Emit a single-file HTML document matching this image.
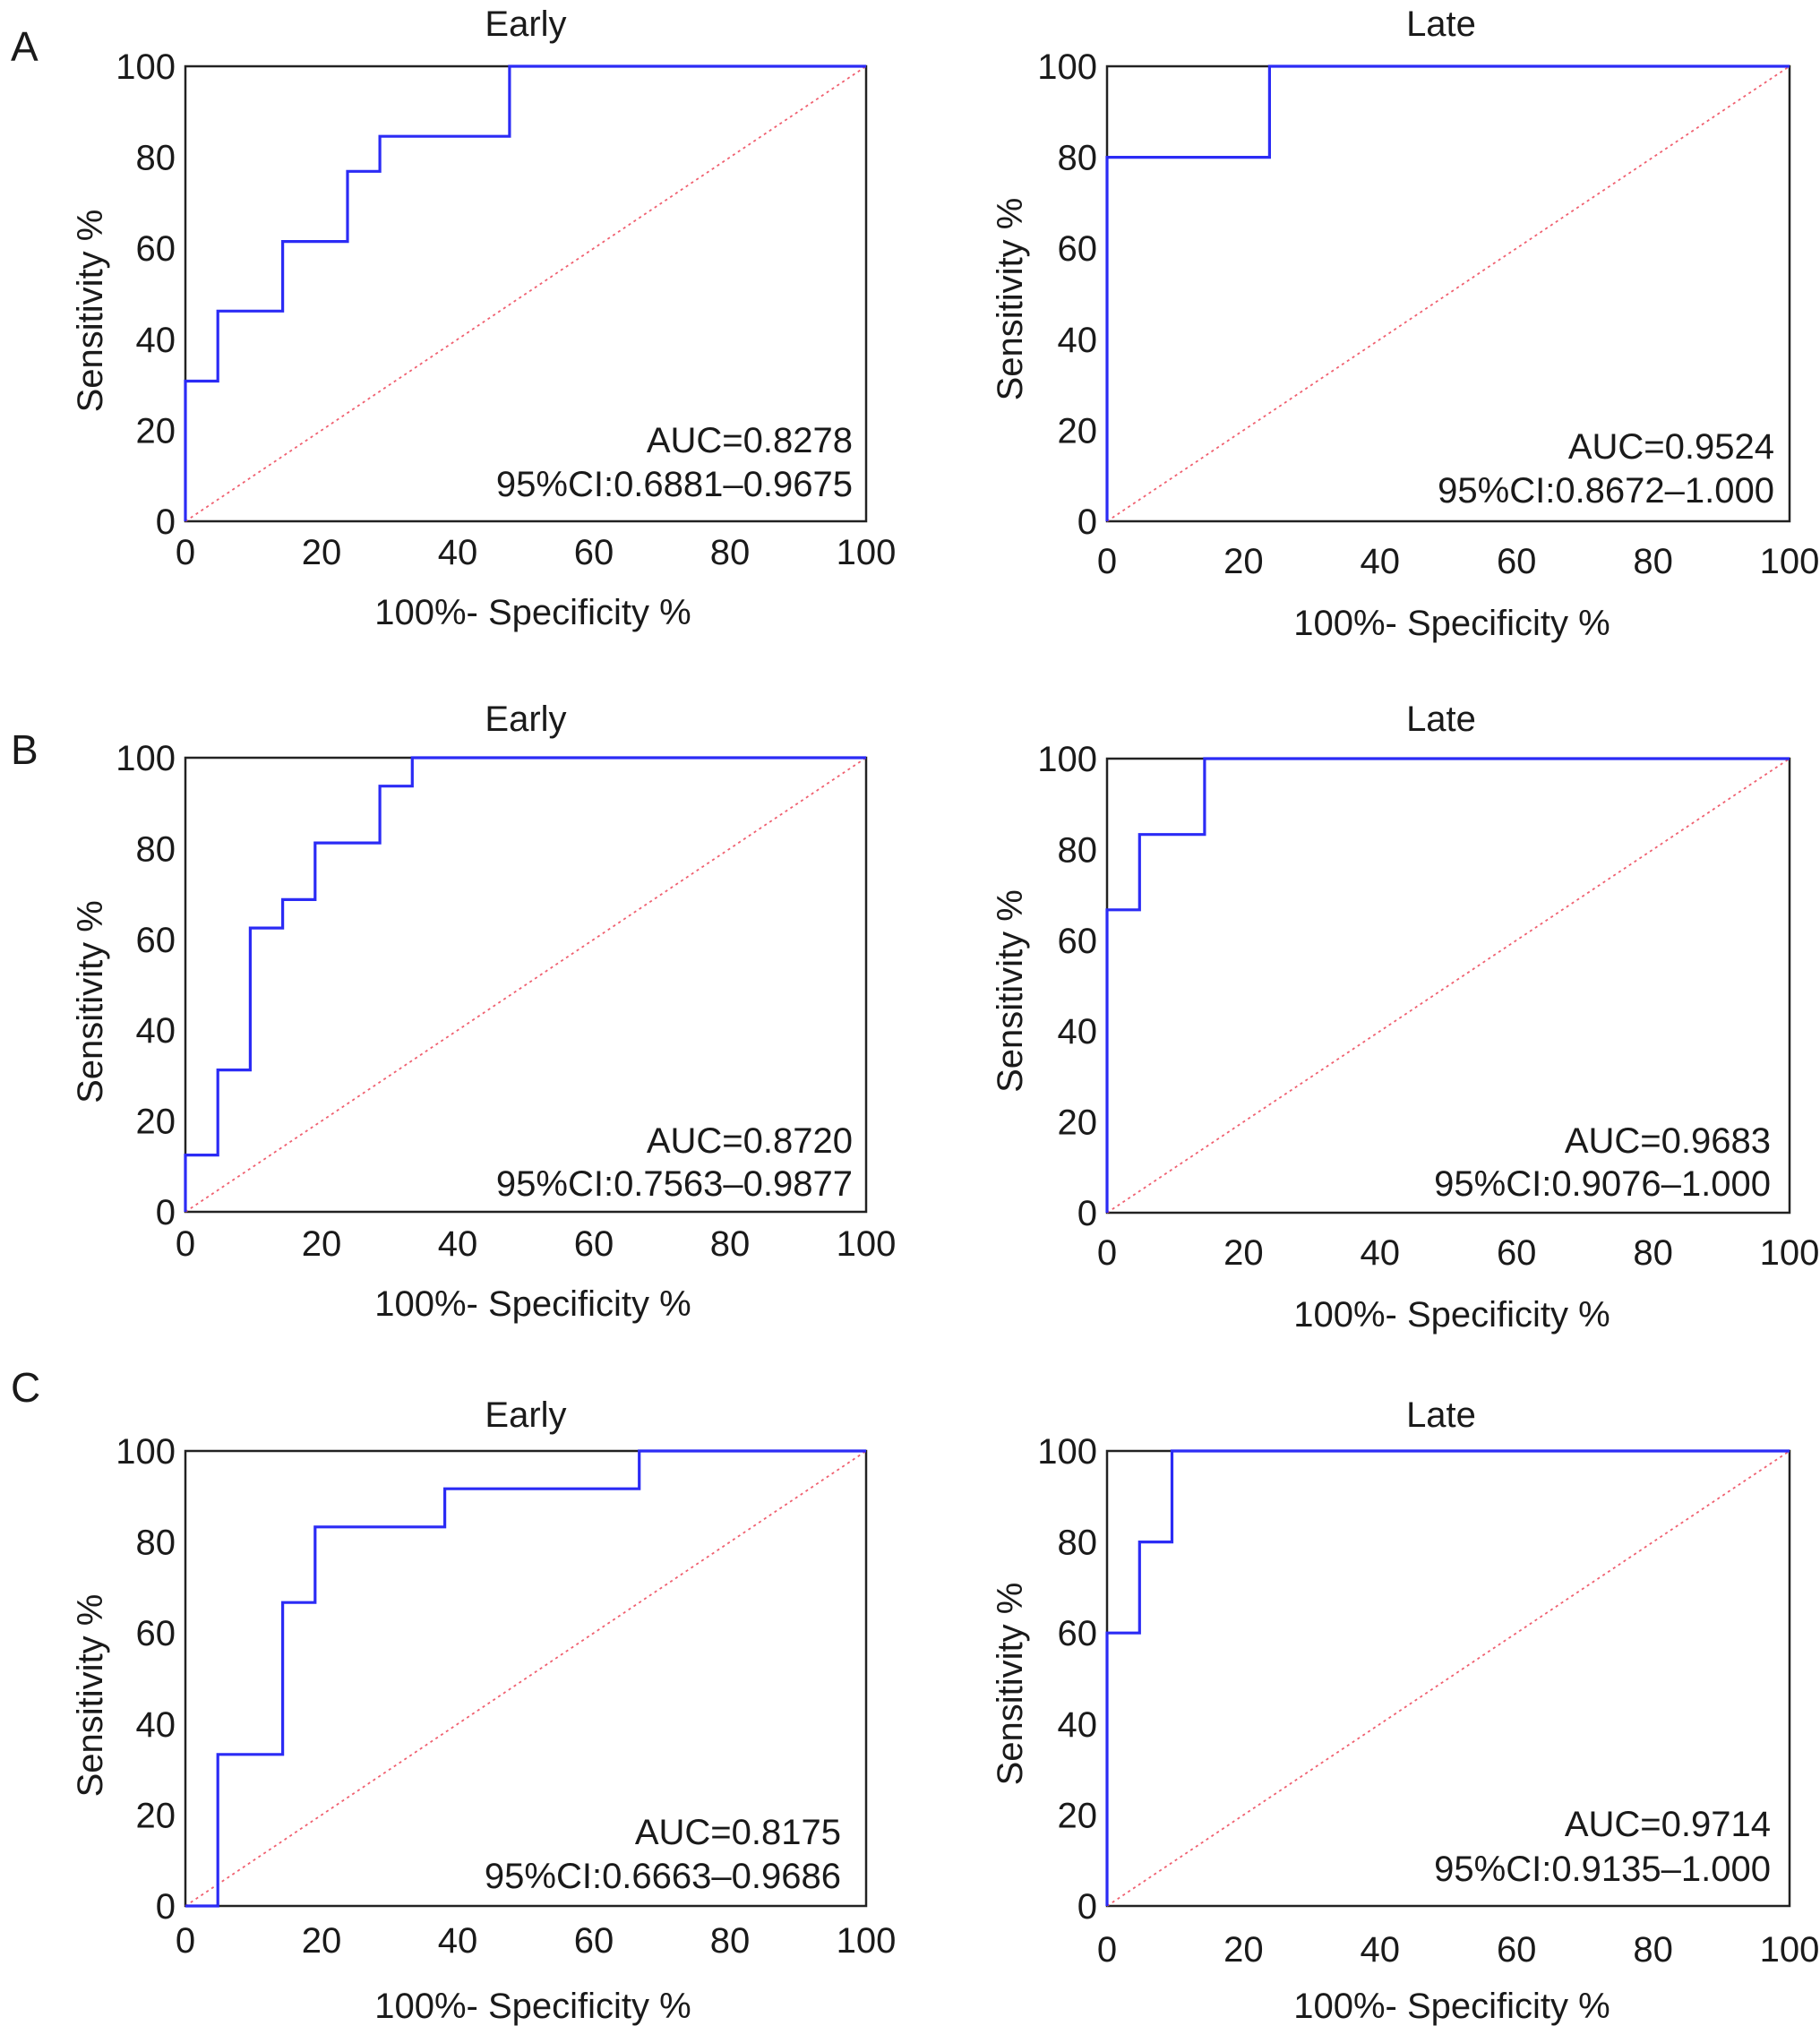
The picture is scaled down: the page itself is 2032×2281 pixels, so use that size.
<!DOCTYPE html>
<html><head><meta charset="utf-8"><style>
html,body{margin:0;padding:0;background:#fff}
svg{display:block}
text{font-family:"Liberation Sans",Arial,sans-serif;fill:#1a1a1a}
</style></head><body>
<svg id="fig" width="2032" height="2281" viewBox="0 0 2032 2281" xmlns="http://www.w3.org/2000/svg">
<text x="12" y="68" font-size="46">A</text>
<text x="12" y="853" font-size="46">B</text>
<text x="12" y="1565" font-size="46">C</text>
</svg>
<script>
// ROC vertices (FPR %, TPR %) per panel
const aEarlyFpr = [0,0,4.76,4.76,14.29,14.29,23.81,23.81,28.57,28.57,47.62,47.62,100];
const aEarlyTpr = [0,30.8,30.8,46.2,46.2,61.5,61.5,76.9,76.9,84.6,84.6,100,100];
const aLateFpr = [0,0,23.81,23.81,100];
const aLateTpr = [0,80,80,100,100];
const bEarlyFpr = [0,0,4.76,4.76,9.52,9.52,14.29,14.29,19.05,19.05,28.57,28.57,33.33,33.33,100];
const bEarlyTpr = [0,12.5,12.5,31.25,31.25,62.5,62.5,68.75,68.75,81.25,81.25,93.75,93.75,100,100];
const bLateFpr = [0,0,4.76,4.76,14.29,14.29,100];
const bLateTpr = [0,66.7,66.7,83.3,83.3,100,100];
const cEarlyFpr = [0,4.76,4.76,14.29,14.29,19.05,19.05,38.1,38.1,66.67,66.67,100];
const cEarlyTpr = [0,0,33.3,33.3,66.7,66.7,83.3,83.3,91.7,91.7,100,100];
const cLateFpr = [0,0,4.76,4.76,9.52,9.52,100];
const cLateTpr = [0,60,60,80,80,100,100];
const tickLabels = ["0","20","40","60","80","100"];
const tickValues = [0,20,40,60,80,100];
const aucTexts = ["AUC=0.8278","AUC=0.9524","AUC=0.8720","AUC=0.9683","AUC=0.8175","AUC=0.9714"];
const ciTexts = ["95%CI:0.6881\u20130.9675","95%CI:0.8672\u20131.000","95%CI:0.7563\u20130.9877","95%CI:0.9076\u20131.000","95%CI:0.6663\u20130.9686","95%CI:0.9135\u20131.000"];

const NS="http://www.w3.org/2000/svg";
const svg=document.getElementById('fig');
function mk(tag,attrs,parent){const e=document.createElementNS(NS,tag);for(const k in attrs)e.setAttribute(k,attrs[k]);(parent||svg).appendChild(e);return e;}

const FS=40;
const panels=[
 {id:'a-early',title:'Early',L:207,R:967,T:74,B:582,fx:aEarlyFpr,ty:aEarlyTpr,tickY:630,xt:697,ay:491,cy:540,ar:952,titleY:40},
 {id:'a-late',title:'Late',L:1236,R:1998,T:74,B:582,fx:aLateFpr,ty:aLateTpr,tickY:640,xt:709,ay:498,cy:547,ar:1981,titleY:40},
 {id:'b-early',title:'Early',L:207,R:967,T:846,B:1353,fx:bEarlyFpr,ty:bEarlyTpr,tickY:1402,xt:1469,ay:1273,cy:1321,ar:952,titleY:816},
 {id:'b-late',title:'Late',L:1236,R:1998,T:847,B:1354,fx:bLateFpr,ty:bLateTpr,tickY:1412,xt:1481,ay:1273,cy:1321,ar:1977,titleY:816},
 {id:'c-early',title:'Early',L:207,R:967,T:1620,B:2128,fx:cEarlyFpr,ty:cEarlyTpr,tickY:2180,xt:2253,ay:2045,cy:2094,ar:939,titleY:1593},
 {id:'c-late',title:'Late',L:1236,R:1998,T:1620,B:2128,fx:cLateFpr,ty:cLateTpr,tickY:2190,xt:2253,ay:2036,cy:2086,ar:1977,titleY:1593}
];
panels.forEach((p,i)=>{
 const g=mk('g',{});
 
 
 const sx=v=>p.L+(p.R-p.L)*v/100, sy=v=>p.B-(p.B-p.T)*v/100;
 const cx=(p.L+p.R)/2;
 const t=mk('text',{x:cx-(i%2?8:0),y:p.titleY,'font-size':FS,'text-anchor':'middle'},g);t.textContent=p.title;
 
 
 const box=mk('rect',{x:p.L,y:p.T,width:p.R-p.L,height:p.B-p.T,fill:'none',stroke:'#222','stroke-width':2.5},g);
 
 
 const diag=mk('line',{x1:sx(0),y1:sy(0),x2:sx(100),y2:sy(100),stroke:'#f06070','stroke-width':1.8,'stroke-dasharray':'3,4'},g);
 
 
 let d='';p.fx.forEach((v,k)=>{d+=(k?'L':'M')+sx(v).toFixed(1)+','+sy(p.ty[k]).toFixed(1);});
 const roc=mk('path',{d:d,fill:'none',stroke:'#2b2bf5','stroke-width':3.2,'stroke-linejoin':'miter'},g);
 
 
 tickValues.forEach((v,k)=>{
  const xl=mk('text',{x:sx(v),y:p.tickY,'font-size':FS,'text-anchor':'middle'},g);xl.textContent=tickLabels[k];
  
  
  const yl=mk('text',{x:p.L-11,y:sy(v)+14,'font-size':FS,'text-anchor':'end'},g);yl.textContent=tickLabels[k];
  
  
 });
 const xt=mk('text',{x:cx+(i%2?4:8),y:p.xt,'font-size':FS,'text-anchor':'middle'},g);xt.textContent='100%- Specificity %';
 
 
 const ym=(p.T+p.B)/2+(i%2?6:19), yx=p.L-93-(i%2?2:0);
 const yt=mk('text',{x:yx,y:ym,'font-size':FS,'text-anchor':'middle',transform:`rotate(-90 ${yx} ${ym})`},g);yt.textContent='Sensitivity %';
 
 
 const a=mk('text',{x:p.ar,y:p.ay+14,'font-size':FS,'text-anchor':'end'},g);a.textContent=aucTexts[i];
 
 
 const c=mk('text',{x:p.ar,y:p.cy+14,'font-size':FS,'text-anchor':'end'},g);c.textContent=ciTexts[i];
 
 
});
</script>
</body></html>
